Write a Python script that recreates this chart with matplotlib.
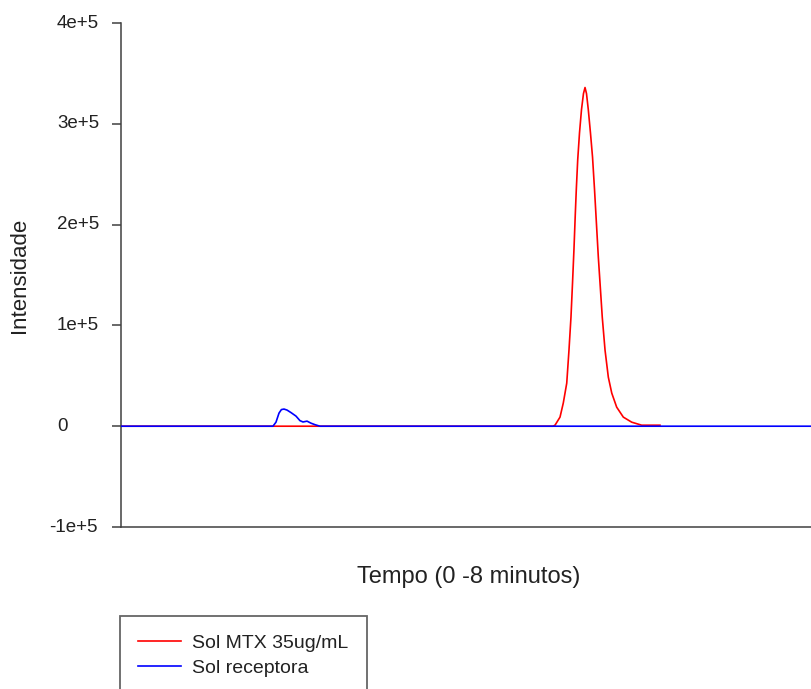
import matplotlib

matplotlib.use("Agg")
import matplotlib.pyplot as plt
import matplotlib.transforms as mtransforms

plt.rcParams["font.family"] = ["Liberation Sans", "DejaVu Sans"]

# chromatogram traces, time in minutes
mtx_time = [0.0, 4.50, 5.009, 5.032, 5.090, 5.128, 5.168, 5.194, 5.217, 5.235, 5.252,
            5.267, 5.279, 5.295, 5.316, 5.339, 5.362, 5.380, 5.397, 5.418, 5.443,
            5.467, 5.490, 5.513, 5.534, 5.554, 5.580, 5.612, 5.650, 5.690, 5.747,
            5.824, 5.921, 6.037, 6.249]
mtx_int = [0, 0, 0, 1000, 9000, 23000, 42700, 75500, 108000, 142000, 176000,
           210000, 235000, 264000, 291000, 314000, 330000, 336000, 330000, 314000, 291000,
           267000, 235000, 200000, 168000, 142000, 108000, 75500, 48700, 32800, 18900,
           9000, 4000, 1000, 1000]

rec_time = [0.0, 1.762, 1.797, 1.832, 1.860, 1.890, 1.925, 1.971, 2.029, 2.075, 2.110,
            2.157, 2.203, 2.249, 2.307, 8.0]
rec_int = [0, 0, 4000, 13000, 16500, 17000, 16000, 13500, 10000, 5500, 4200,
           5000, 3000, 1500, 0, 0]

yticks = [-1e5, 0, 1e5, 2e5, 3e5, 4e5]
ytick_labels = ["-1e+5", "0", "1e+5", "2e+5", "3e+5", "4e+5"]

axis_color = "#404040"
text_color = "#222222"

fig = plt.figure(figsize=(8.11, 6.89), dpi=100)
ax = fig.add_axes([121 / 811, 1 - 527 / 689, 1 - 121 / 811, (527 - 23) / 689])

ax.plot(mtx_time, mtx_int, color="#ff0000", lw=1.2, label="Sol MTX 35ug/mL", zorder=2)
ax.plot(rec_time, rec_int, color="#0000ff", lw=1.2, label="Sol receptora", zorder=3)

ax.set_xlim(0, 8)
ax.set_ylim(-1e5, 4e5)
ax.set_xticks([])
ax.set_yticks(yticks)
ax.set_yticklabels([])
ax.tick_params(axis="y", direction="out", length=6.5, width=1.1, color=axis_color)
for side in ["top", "right"]:
    ax.spines[side].set_visible(False)
for side in ["left", "bottom"]:
    ax.spines[side].set_color(axis_color)
    ax.spines[side].set_linewidth(1.1)

# tick labels aligned on their digits, the minus sign hangs out to the left
trans = mtransforms.blended_transform_factory(ax.transAxes, ax.transData)
for val, lab in zip(yticks, ytick_labels):
    shift = -5.5 if lab.startswith("-") else 0
    t = mtransforms.offset_copy(trans, fig=fig, x=shift - 64 * 72 / 100, y=0, units="points")
    ax.text(0, val, lab, transform=t, ha="left", va="center", fontsize=13.5, color=text_color)

fig.text(20 / 811, 1 - 275 / 689, "Intensidade", rotation=90, ha="center", va="center",
         fontsize=16, color=text_color)
fig.text(469 / 811, 1 - 577 / 689, "Tempo (0 -8 minutos)", ha="center", va="center",
         fontsize=17, color=text_color)

leg = fig.legend(loc="upper left", bbox_to_anchor=(120 / 811, 1 - 616 / 689), fontsize=14,
                 frameon=True, fancybox=False, handlelength=2.2, borderpad=0.95,
                 labelspacing=0.37, handletextpad=0.56, borderaxespad=0)
leg.get_frame().set_edgecolor(axis_color)
leg.get_frame().set_linewidth(1.3)
for txt in leg.get_texts():
    txt.set_color(text_color)

fig.savefig("out.png", dpi=100)
